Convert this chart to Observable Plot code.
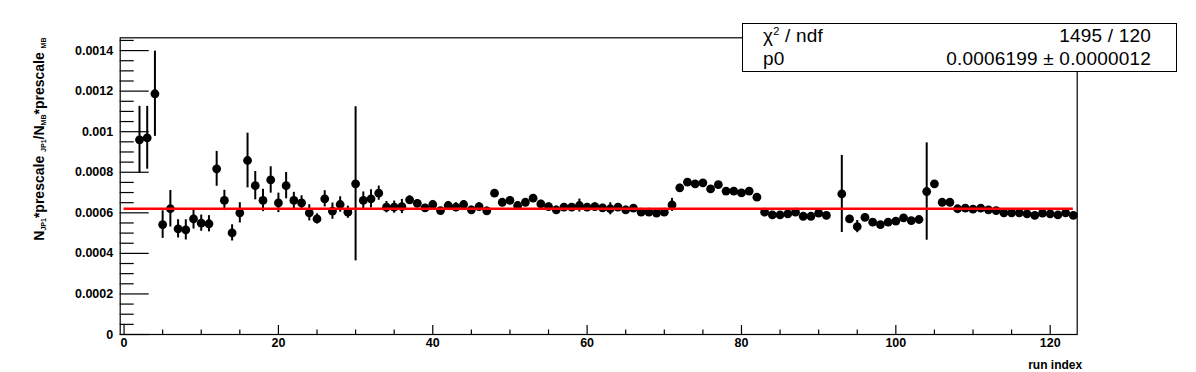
<!DOCTYPE html>
<html>
<head>
<meta charset="utf-8">
<script src="https://cdn.jsdelivr.net/npm/d3@7"></script>
<script src="https://cdn.jsdelivr.net/npm/@observablehq/plot@0.6"></script>
<style>
  html, body { margin: 0; padding: 0; background: #fff; }
  #wrap { position: relative; width: 1196px; height: 372px; overflow: hidden; }
  #stats {
    position: absolute; left: 742px; top: 23px; width: 433px; height: 47px;
    border: 1px solid #000; background: #fff; box-sizing: content-box;
    font-family: "Liberation Sans", Arial, Helvetica, sans-serif; font-size: 19px; color: #000;
    letter-spacing: 0.2px;
  }
  #stats .row { position: absolute; left: 20px; right: 25px; height: 20px; line-height: 20px; }
  #stats .l { position: absolute; left: 0; }
  #stats .r { position: absolute; right: 0; }
  #stats sup { font-size: 11px; vertical-align: 0; position: relative; top: -7px; }
</style>
</head>
<body>
<div id="wrap"></div>
<script>
// ---- data ----
const runIndex = [2,3,4,5,6,7,8,9,10,11,12,13,14,15,16,17,18,19,20,21,22,23,24,25,26,27,28,29,30,
  31,32,33,34,35,36,37,38,39,40,41,42,43,44,45,46,47,48,49,50,51,52,53,54,55,56,57,58,59,60,
  61,62,63,64,65,66,67,68,69,70,71,72,73,74,75,76,77,78,79,80,81,82,83,84,85,86,87,88,89,90,91,
  93,94,95,96,97,98,99,100,101,102,103,104,105,106,107,108,109,110,111,112,113,114,115,116,117,118,119,120,121,122,123];
const ratio = [0.000960,0.000970,0.001187,0.000542,0.000620,0.000521,0.000516,0.000570,0.000549,0.000546,
  0.000817,0.000661,0.000501,0.000600,0.000858,0.000734,0.000661,0.000762,0.000649,0.000734,
  0.000661,0.000649,0.000600,0.000570,0.000669,0.000608,0.000641,0.000603,0.000743,
  0.000661,0.000669,0.000697,0.000628,0.000628,0.000631,0.000664,0.000647,0.000624,0.000641,
  0.000611,0.000636,0.000628,0.000641,0.000615,0.000631,0.000610,0.000697,0.000652,0.000661,
  0.000636,0.000652,0.000672,0.000644,0.000631,0.000615,0.000628,0.000628,0.000636,0.000628,
  0.000631,0.000624,0.000620,0.000628,0.000615,0.000623,0.000603,0.000603,0.000598,0.000603,
  0.000639,0.000723,0.000751,0.000743,0.000748,0.000718,0.000739,0.000707,0.000707,0.000698,
  0.000707,0.000677,0.000603,0.000590,0.000590,0.000595,0.000603,0.000583,0.000583,0.000598,0.000587,
  0.000693,0.000570,0.000532,0.000578,0.000554,0.000542,0.000554,0.000559,0.000575,0.000562,
  0.000567,0.000705,0.000743,0.000652,0.000652,0.000620,0.000623,0.000618,0.000623,0.000615,
  0.000611,0.000600,0.000600,0.000600,0.000595,0.000587,0.000598,0.000595,0.000590,0.000600,0.000587];
const ratioErr = [0.000165,0.000155,0.000210,0.000068,0.000090,0.000045,0.000050,0.000050,0.000040,0.000040,
  0.000086,0.000050,0.000040,0.000050,0.000135,0.000070,0.000055,0.000065,0.000048,0.000065,
  0.000040,0.000035,0.000040,0.000025,0.000040,0.000040,0.000038,0.000030,0.000380,
  0.000042,0.000045,0.000035,0.000028,0.000030,0.000035,0.000020,0.000018,0.000018,0.000020,
  0.000015,0.000020,0.000022,0.000018,0.000018,0.000018,0.000018,0.000018,0.000018,0.000018,
  0.000018,0.000018,0.000018,0.000018,0.000018,0.000018,0.000018,0.000018,0.000032,0.000018,
  0.000018,0.000018,0.000030,0.000018,0.000018,0.000018,0.000015,0.000015,0.000015,0.000015,
  0.000032,0.000018,0.000015,0.000015,0.000015,0.000015,0.000015,0.000015,0.000015,0.000015,
  0.000015,0.000015,0.000015,0.000015,0.000015,0.000015,0.000018,0.000015,0.000015,0.000015,0.000015,
  0.000190,0.000018,0.000030,0.000018,0.000015,0.000015,0.000015,0.000015,0.000015,0.000015,
  0.000015,0.000240,0.000015,0.000015,0.000015,0.000015,0.000015,0.000015,0.000015,0.000015,
  0.000015,0.000015,0.000015,0.000015,0.000015,0.000015,0.000015,0.000015,0.000015,0.000015,0.000015];

const fitP0 = 0.0006199;
const fitRange = [0, 123];
const xDomain = [-0.5, 123.5];
const yDomain = [0, 0.001463];
const xMajorTicks = [0, 20, 40, 60, 80, 100, 120];
const xMinorTicks = [5, 10, 15, 25, 30, 35, 45, 50, 55, 65, 70, 75, 85, 90, 95, 105, 110, 115];
const yMajorTicks = [0, 0.0002, 0.0004, 0.0006, 0.0008, 0.001, 0.0012, 0.0014];
const yTickLabels = ["0", "0.0002", "0.0004", "0.0006", "0.0008", "0.001", "0.0012", "0.0014"];
const yMinorTicks = [0.00005,0.0001,0.00015,0.00025,0.0003,0.00035,0.00045,0.0005,0.00055,0.00065,0.0007,0.00075,
  0.00085,0.0009,0.00095,0.00105,0.0011,0.00115,0.00125,0.0013,0.00135,0.00145];
const xTitle = "run index";
const yTitleParts = [["N",0],["JP1",1],["*prescale ",0],["JP1",1],["/N",0],["MB",1],["*prescale ",0],["MB",1]];
const statsRows = [["χ2 / ndf", "1495 / 120"], ["p0", "0.0006199 ± 0.0000012"]];

const data = runIndex.map((x, i) => ({x, y: ratio[i], e: ratioErr[i]}));

const W = 1196, H = 372;
const mL = 119.7, mR = 1196 - 1076.7, mT = 37.3, mB = 372 - 334;
const pxPerX = (W - mL - mR) / (xDomain[1] - xDomain[0]);
const pxPerY = (H - mT - mB) / (yDomain[1] - yDomain[0]);
// tick lengths expressed in data units
const yMajLen = 29 / pxPerX, yMinLen = 14 / pxPerX;
const xMajLen = 9 / pxPerY, xMinLen = 4.5 / pxPerY;

const svg = Plot.plot({
  width: W, height: H,
  marginLeft: mL, marginRight: mR, marginTop: mT, marginBottom: mB,
  style: {fontFamily: "'Liberation Sans', Arial, Helvetica, sans-serif", fontSize: "12.5px", fontWeight: "bold", background: "#fff", color: "#000"},
  x: {domain: xDomain, label: null},
  y: {domain: yDomain, label: null},
  marks: [
    Plot.frame({stroke: "#000", strokeWidth: 1.2}),
    // inward ticks
    Plot.ruleY(yMajorTicks, {y: d => d, x1: xDomain[0], x2: xDomain[0] + yMajLen, stroke: "#000", strokeWidth: 1.2}),
    Plot.ruleY(yMinorTicks, {y: d => d, x1: xDomain[0], x2: xDomain[0] + yMinLen, stroke: "#000", strokeWidth: 1.2}),
    Plot.ruleX(xMajorTicks, {x: d => d, y1: yDomain[0], y2: yDomain[0] + xMajLen, stroke: "#000", strokeWidth: 1.2}),
    Plot.ruleX(xMinorTicks, {x: d => d, y1: yDomain[0], y2: yDomain[0] + xMinLen, stroke: "#000", strokeWidth: 1.2}),
    Plot.axisY(yMajorTicks, {tickSize: 0, tickPadding: 7, tickFormat: (d, i) => yTickLabels[i], fontWeight: "bold", label: null}),
    Plot.axisX(xMajorTicks, {tickSize: 0, tickPadding: 4, tickFormat: d => String(d), fontWeight: "bold", label: null}),
    // error bars and points
    Plot.ruleX(data, {x: "x", y1: d => d.y - d.e, y2: d => d.y + d.e, stroke: "#000", strokeWidth: 2}),
    Plot.dot(data, {x: "x", y: "y", r: 4.4, fill: "#000", stroke: "none"}),
    // fit line
    Plot.ruleY([fitP0], {y: d => d, x1: fitRange[0], x2: fitRange[1], stroke: "#ff0000", strokeWidth: 2.6}),
    Plot.text([xTitle], {text: d => d, frameAnchor: "bottom-right", textAnchor: "end", lineAnchor: "middle", dx: 5, dy: 31, fontSize: 12, fontWeight: "bold"})
  ]
});

document.getElementById("wrap").appendChild(svg);

// y-axis title with subscripts
const t = d3.select(svg).append("text")
  .attr("transform", "translate(44,37.5) rotate(-90)")
  .attr("text-anchor", "end")
  .style("font-family", "'Liberation Sans', Arial, Helvetica, sans-serif")
  .style("font-weight", "bold")
  .style("white-space", "pre")
  .attr("fill", "#000");
let prevSub = 0;
yTitleParts.forEach(([s, sub]) => {
  const ts = t.append("tspan").text(s).style("font-size", sub ? "7px" : "14px");
  const dy = (sub ? 2 : 0) - (prevSub ? 2 : 0);
  if (dy) ts.attr("dy", dy);
  prevSub = sub;
});

// stats box
const box = document.createElement("div");
box.id = "stats";
statsRows.forEach(([l, r], i) => {
  const row = document.createElement("div");
  row.className = "row";
  row.style.top = (2 + i * 23) + "px";
  const ls = document.createElement("span");
  ls.className = "l";
  if (l.startsWith("χ2")) {
    ls.innerHTML = "χ<sup>2</sup>" + l.slice(2);
  } else ls.textContent = l;
  const rs = document.createElement("span");
  rs.className = "r";
  rs.textContent = r;
  row.appendChild(ls); row.appendChild(rs);
  box.appendChild(row);
});
document.getElementById("wrap").appendChild(box);
</script>
</body>
</html>
